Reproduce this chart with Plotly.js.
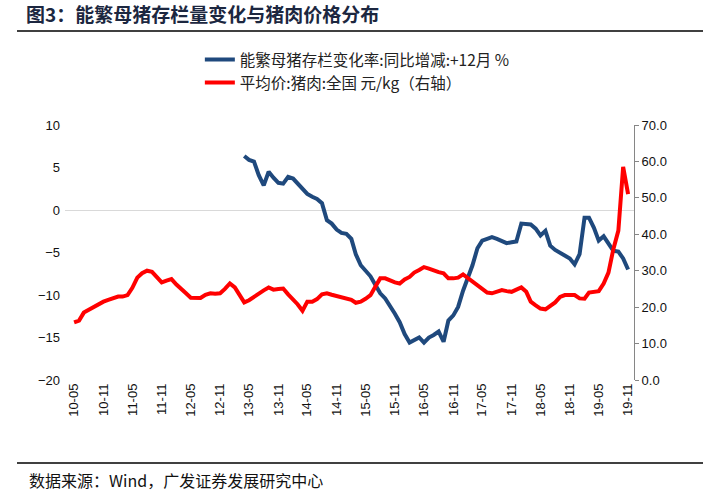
<!DOCTYPE html>
<html>
<head>
<meta charset="utf-8">
<script src="https://cdn.plot.ly/plotly-3.0.1.min.js"></script>
<style>
html,body{margin:0;padding:0;background:#fff;}
#chart{width:703px;height:492px;}
</style>
</head>
<body>
<div id="chart"></div>
<script>
// Monthly series starting 2010-05
const startYear = 2010, startMonth = 5;
const sowChangeName = '能繁母猪存栏变化率:同比增减:+12月 %';
const porkPriceName = '平均价:猪肉:全国 元/kg（右轴）';

// Left axis: sow inventory YoY change (%), starts 2013-04 (index 35)
const sowChange = [
  null,null,null,null,null,null,null,null,null,null,
  null,null,null,null,null,null,null,null,null,null,
  null,null,null,null,null,null,null,null,null,null,
  null,null,null,null,null,
  6.35,5.9,5.7,4.1,2.9,4.5,3.8,3.2,3.1,3.9,
  3.7,3.1,2.5,1.9,1.55,1.3,0.8,-1.2,-1.6,-2.3,
  -2.7,-2.8,-3.4,-5.2,-6.5,-7.2,-7.8,-8.8,-9.8,-10.4,
  -11.2,-12.2,-13.2,-14.6,-15.6,-15.3,-15.0,-15.6,-15.0,-14.7,
  -14.3,-15.5,-13.0,-12.4,-11.4,-9.5,-8.0,-6.5,-4.5,-3.6,
  -3.4,-3.2,-3.4,-3.7,-3.9,-3.8,-3.7,-1.6,-1.6,-1.7,
  -2.2,-3.0,-2.45,-4.2,-4.7,-5.0,-5.3,-5.7,-6.4,-5.2,
  -0.9,-0.9,-2.1,-3.6,-3.1,-4.0,-4.8,-4.9,-5.7,-7.0
];

// Right axis: national average pork price (yuan/kg)
const porkPrice = [
  15.8,16.3,18.5,19.3,20.1,20.6,21.5,22.0,22.5,22.9,
  22.9,23.3,25.3,28.1,29.3,30.0,29.7,28.4,26.8,27.3,
  27.7,26.2,24.9,23.8,22.6,22.5,22.5,23.4,23.8,23.7,
  23.8,25.0,26.5,25.4,23.3,21.3,21.9,22.9,23.8,24.6,
  25.4,24.8,25.0,25.1,23.5,22.2,20.8,19.0,21.5,21.5,
  22.2,23.5,23.8,23.4,23.0,22.7,22.2,22.0,21.2,21.5,
  22.3,23.3,25.6,27.9,27.9,27.3,26.8,26.5,27.6,28.3,
  29.5,30.2,31.0,30.6,30.0,29.6,29.3,27.9,27.9,28.1,
  29.0,28.0,27.0,26.0,25.0,24.0,23.8,24.3,24.7,24.4,
  24.2,24.8,25.4,24.2,21.5,20.5,19.6,19.4,20.2,21.3,
  22.8,23.3,23.3,23.3,22.4,22.3,24.0,24.2,24.4,26.5,
  29.5,36.0,41.0,58.5,51.0
];

const months = porkPrice.map((_, i) => {
  const m = startMonth - 1 + i;
  const y = startYear + Math.floor(m / 12);
  const mm = (m % 12) + 1;
  return y + '-' + (mm < 10 ? '0' + mm : mm) + '-01';
});

const numFont = 'Liberation Sans, Arial, sans-serif';
const cjkFont = '"Noto Sans CJK SC", sans-serif';

const traces = [
  {
    x: months, y: sowChange, name: sowChangeName, type: 'scatter', mode: 'lines',
    line: {color: '#1F497D', width: 4}, yaxis: 'y', connectgaps: false
  },
  {
    x: months, y: porkPrice, name: porkPriceName, type: 'scatter', mode: 'lines',
    line: {color: '#FF0000', width: 4}, yaxis: 'y2'
  }
];

const layout = {
  width: 703, height: 492,
  margin: {l: 65, r: 69, t: 125, b: 112},
  paper_bgcolor: '#fff', plot_bgcolor: '#fff',
  showlegend: true,
  legend: {
    x: 0.237, y: 1.322, xanchor: 'left', yanchor: 'top',
    font: {family: cjkFont, size: 15.5, color: '#222'},
    bgcolor: 'rgba(0,0,0,0)', tracegroupgap: 0
  },
  xaxis: {
    type: 'date',
    range: ['2010-03-05', '2019-12-08'],
    tick0: '2010-05-01', dtick: 'M6', tickformat: '%y-%m',
    tickangle: -90,
    tickfont: {family: numFont, size: 13, color: '#111'},
    showgrid: false, zeroline: false, showline: false, ticks: ''
  },
  yaxis: {
    range: [-20, 10], dtick: 5,
    tickfont: {family: numFont, size: 13, color: '#111'},
    ticklabelstandoff: 4,
    showgrid: false, zeroline: true, zerolinecolor: '#D9D9D9', zerolinewidth: 1,
    showline: false, ticks: ''
  },
  yaxis2: {
    range: [0, 70], dtick: 10, tickformat: '.1f',
    overlaying: 'y', side: 'right',
    tickfont: {family: numFont, size: 13, color: '#111'},
    showgrid: false, zeroline: false,
    showline: true, linecolor: '#868686', linewidth: 1,
    ticks: 'outside', ticklen: 4, tickcolor: '#868686'
  },
  title: {
    text: '<b>图3：能繁母猪存栏量变化与猪肉价格分布</b>',
    font: {family: cjkFont, size: 19, color: '#1c2740'},
    xref: 'container', yref: 'container',
    x: 26 / 703, xanchor: 'left', y: 1 - 15 / 492, yanchor: 'middle'
  },
  shapes: [
    {type: 'line', xref: 'paper', yref: 'paper',
     x0: (17 - 65) / 569, x1: (703 - 65) / 569,
     y0: (380 - 31) / 255, y1: (380 - 31) / 255,
     line: {color: '#000', width: 1.5}},
    {type: 'line', xref: 'paper', yref: 'paper',
     x0: (17 - 65) / 569, x1: (703 - 65) / 569,
     y0: (380 - 463) / 255, y1: (380 - 463) / 255,
     line: {color: '#000', width: 1.5}}
  ],
  annotations: [
    {text: '数据来源：Wind，广发证券发展研究中心', xref: 'paper', yref: 'paper',
     x: (27 - 65) / 569, y: (380 - 480) / 255, xanchor: 'left', yanchor: 'middle',
     showarrow: false, font: {family: cjkFont, size: 16, color: '#111'}}
  ]
};

Plotly.newPlot('chart', traces, layout, {displayModeBar: false, responsive: false});
</script>
</body>
</html>
